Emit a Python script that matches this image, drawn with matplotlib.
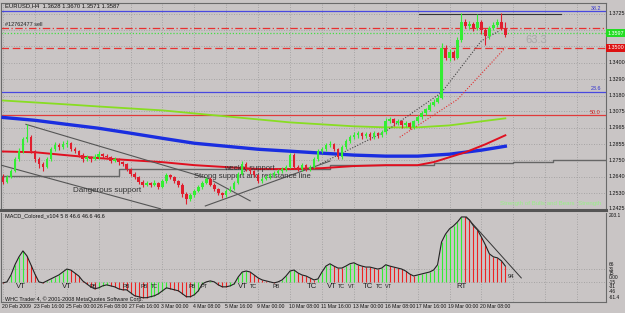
import numpy as np
import matplotlib
matplotlib.use("Agg")
from matplotlib import pyplot as plt

# EURUSD H4 candles, 20 Feb 2009 08:00 .. 20 Mar 2009
closes = [1.2605, 1.2638, 1.2678, 1.2757, 1.2810, 1.2890, 1.2903, 1.2810, 1.2757, 1.2724,
          1.2704, 1.2757, 1.2823, 1.2850, 1.2837, 1.2856, 1.2863, 1.2823, 1.2810, 1.2784,
          1.2757, 1.2770, 1.2757, 1.2770, 1.2790, 1.2777, 1.2770, 1.2744, 1.2757, 1.2737,
          1.2724, 1.2691, 1.2658, 1.2638, 1.2605, 1.2585, 1.2598, 1.2585, 1.2598, 1.2571,
          1.2611, 1.2651, 1.2638, 1.2611, 1.2585, 1.2525, 1.2492, 1.2518, 1.2545, 1.2571,
          1.2598, 1.2624, 1.2585, 1.2558, 1.2532, 1.2518, 1.2545, 1.2558, 1.2598, 1.2658,
          1.2724, 1.2691, 1.2678, 1.2651, 1.2611, 1.2624, 1.2638, 1.2651, 1.2664, 1.2678,
          1.2691, 1.2704, 1.2784, 1.2704, 1.2691, 1.2717, 1.2691, 1.2704, 1.2757, 1.2810,
          1.2823, 1.2850, 1.2856, 1.2823, 1.2770, 1.2837, 1.2876, 1.2903, 1.2916, 1.2929,
          1.2909, 1.2923, 1.2903, 1.2929, 1.2916, 1.2936, 1.3009, 1.3022, 1.2996, 1.3009,
          1.2982, 1.2996, 1.2969, 1.3009, 1.3035, 1.3062, 1.3088, 1.3121, 1.3141, 1.3168,
          1.3500, 1.3433, 1.3473, 1.3433, 1.3553, 1.3672, 1.3645, 1.3659, 1.3632, 1.3672,
          1.3619, 1.3579, 1.3632, 1.3652, 1.3672, 1.3628, 1.3587]
highs = [1.2660, 1.2650, 1.2690, 1.2770, 1.2830, 1.2905, 1.2989, 1.2915, 1.2820, 1.2770,
         1.2740, 1.2770, 1.2840, 1.2870, 1.2865, 1.2880, 1.2885, 1.2870, 1.2835, 1.2820,
         1.2795, 1.2785, 1.2780, 1.2790, 1.2810, 1.2800, 1.2790, 1.2780, 1.2770, 1.2765,
         1.2745, 1.2730, 1.2700, 1.2670, 1.2645, 1.2615, 1.2610, 1.2605, 1.2615, 1.2605,
         1.2625, 1.2665, 1.2660, 1.2645, 1.2620, 1.2595, 1.2535, 1.2530, 1.2555, 1.2585,
         1.2610, 1.2640, 1.2635, 1.2595, 1.2565, 1.2540, 1.2555, 1.2575, 1.2610, 1.2670,
         1.2745, 1.2735, 1.2700, 1.2685, 1.2660, 1.2640, 1.2650, 1.2665, 1.2680, 1.2690,
         1.2705, 1.2720, 1.2800, 1.2800, 1.2715, 1.2730, 1.2725, 1.2720, 1.2770, 1.2825,
         1.2840, 1.2865, 1.2875, 1.2865, 1.2830, 1.2850, 1.2890, 1.2920, 1.2935, 1.2945,
         1.2940, 1.2940, 1.2935, 1.2945, 1.2940, 1.2950, 1.3030, 1.3040, 1.3030, 1.3025,
         1.3020, 1.3010, 1.3005, 1.3020, 1.3050, 1.3075, 1.3100, 1.3135, 1.3160, 1.3185,
         1.3530, 1.3515, 1.3490, 1.3485, 1.3570, 1.3732, 1.3690, 1.3680, 1.3670, 1.3725,
         1.3685, 1.3630, 1.3645, 1.3670, 1.3690, 1.3732, 1.3670]
lows = [1.2590, 1.2595, 1.2630, 1.2670, 1.2745, 1.2800, 1.2870, 1.2800, 1.2740, 1.2700,
        1.2680, 1.2695, 1.2745, 1.2810, 1.2820, 1.2825, 1.2840, 1.2810, 1.2795, 1.2770,
        1.2740, 1.2745, 1.2740, 1.2750, 1.2760, 1.2765, 1.2755, 1.2730, 1.2735, 1.2720,
        1.2710, 1.2675, 1.2645, 1.2625, 1.2590, 1.2570, 1.2575, 1.2570, 1.2575, 1.2555,
        1.2565, 1.2600, 1.2625, 1.2600, 1.2570, 1.2505, 1.2459, 1.2475, 1.2505, 1.2535,
        1.2560, 1.2590, 1.2575, 1.2545, 1.2515, 1.2495, 1.2505, 1.2535, 1.2550, 1.2590,
        1.2650, 1.2680, 1.2660, 1.2640, 1.2600, 1.2600, 1.2615, 1.2625, 1.2640, 1.2655,
        1.2665, 1.2680, 1.2695, 1.2690, 1.2675, 1.2680, 1.2675, 1.2680, 1.2695, 1.2745,
        1.2800, 1.2810, 1.2835, 1.2810, 1.2755, 1.2760, 1.2825, 1.2865, 1.2890, 1.2900,
        1.2890, 1.2895, 1.2885, 1.2890, 1.2900, 1.2905, 1.2925, 1.2995, 1.2980, 1.2985,
        1.2965, 1.2970, 1.2955, 1.2960, 1.3000, 1.3025, 1.3050, 1.3075, 1.3110, 1.3130,
        1.3155, 1.3420, 1.3410, 1.3420, 1.3425, 1.3540, 1.3630, 1.3625, 1.3610, 1.3620,
        1.3590, 1.3520, 1.3560, 1.3620, 1.3640, 1.3615, 1.3571]
first_open = 1.2640

# moving averages, sampled every 8 bars (+ last bar)
ma_bars = [0, 8, 16, 24, 32, 40, 48, 56, 64, 72, 80, 88, 96, 104, 112, 120, 126]
ma_blue = [1.3035, 1.3016, 1.2989, 1.2963, 1.2930, 1.2896, 1.2863, 1.2843, 1.2823, 1.2810,
           1.2797, 1.2784, 1.2777, 1.2777, 1.2790, 1.2817, 1.2843]
ma_green = [1.3148, 1.3135, 1.3122, 1.3108, 1.3095, 1.3082, 1.3062, 1.3042, 1.3022, 1.3002,
            1.2989, 1.2976, 1.2969, 1.2969, 1.2982, 1.3009, 1.3029]
ma_red_bars = [0, 8, 16, 24, 32, 40, 48, 56, 64, 72, 80, 88, 96, 104, 108, 116, 121, 126]
ma_red = [1.2808, 1.2803, 1.2783, 1.2764, 1.2750, 1.2737, 1.2717, 1.2704, 1.2691, 1.2691,
          1.2697, 1.2711, 1.2717, 1.2717, 1.2737, 1.2803, 1.2856, 1.2916]
dot_black_bars = [79.5, 96, 110, 120, 124.5]
dot_black = [1.2724, 1.2943, 1.3201, 1.3546, 1.3612]
dot_red_bars = [99.5, 114, 126]
dot_red = [1.2903, 1.3155, 1.3500]

# support step line (bar ranges and level)
step_bars = [-1, 29, 29, 82, 82, 108, 108, 128, 128, 138, 138, 152]
step_lvls = [1.2644, 1.2644, 1.2691, 1.2691, 1.2717, 1.2717, 1.2730, 1.2730,
             1.2737, 1.2737, 1.2750, 1.2750]

# hand drawn trend lines: (bar0, price0, bar1, price1)
trend_lines = [(5.75, 1.2989, 52.0, 1.2624),
               (52.75, 1.2611, 62.0, 1.2479),
               (-0.5, 1.2717, 39.5, 1.2426),
               (50.75, 1.2445, 82.0, 1.2744)]

# MACD colored histogram values
macd = [-3, 0, 21, 52, 76, 94, 79, 52, 24, 0, -3, 3, 9, 15, 21, 30, 39, 36, 27, 18,
        3, -6, -15, -21, -18, -12, -9, -12, -15, -21, -24, -24, -33, -42, -45, -48, -48, -45, -42, -36,
        -27, -18, -21, -24, -27, -36, -45, -45, -39, -27, -6, 0, 3, 0, -9, -15, -15, -12, -6, 15,
        30, 33, 30, 21, 12, 6, 3, 0, -3, 0, 6, 18, 33, 36, 27, 21, 18, 12, 6, 9,
        30, 48, 55, 48, 42, 42, 48, 55, 58, 52, 48, 45, 45, 42, 39, 42, 52, 48, 45, 42,
        39, 33, 24, 18, 21, 24, 27, 30, 36, 52, 121, 145, 161, 170, 182, 197, 197, 188, 170, 158,
        136, 112, 85, 76, 73, 64, 48]
macd_marks = [(4.5, 'VT', 1), (16, 'VT', 1), (22.5, 'PB', 0), (31, 'PB', 0), (35.5, 'PB', 0),
              (38, 'TC', 0), (47.5, 'PB', 0), (50.3, 'PT', 0), (60.3, 'VT', 1), (62.8, 'TC', 0),
              (68.5, 'PB', 0), (77.5, 'TC', 1), (82.5, 'VT', 1), (84.9, 'TC', 0), (87.5, 'VT', 0),
              (91.5, 'TC', 1), (94.5, 'TC', 0), (96.6, 'VT', 0), (115, 'RT', 1)]

price_ticks = [1.2425, 1.2530, 1.2640, 1.2750, 1.2855, 1.2965, 1.3075, 1.3180, 1.3290,
               1.3400, 1.3510, 1.3615, 1.3725]
date_labels = ["20 Feb 2009", "23 Feb 16:00", "25 Feb 00:00", "26 Feb 08:00", "27 Feb 16:00",
               "3 Mar 00:00", "4 Mar 08:00", "5 Mar 16:00", "9 Mar 00:00", "10 Mar 08:00",
               "11 Mar 16:00", "13 Mar 00:00", "16 Mar 08:00", "17 Mar 16:00", "19 Mar 00:00",
               "20 Mar 08:00"]

BG = '#c9c5c5'
GRID = '#9a9a9a'
BULL = '#33ee33'
BEAR = '#e01e2e'
plt.rcParams['font.family'] = ['Liberation Sans', 'DejaVu Sans']

W, H = 625, 313
fig = plt.figure(figsize=(W / 100, H / 100), dpi=100, facecolor=BG)


def px_axes(x0, y0, x1, y1):
    return fig.add_axes([x0 / W, 1 - y1 / H, (x1 - x0) / W, (y1 - y0) / H])


XL = (-0.5, 151.25)
ax = px_axes(1, 3, 606, 210)
mx = px_axes(1, 213, 606, 302)
for a in (ax, mx):
    a.set_facecolor(BG)
    a.set_xlim(*XL)
    a.set_xticks(range(0, 152, 8))
    a.tick_params(length=0, labelbottom=False, labelleft=False)
    a.grid(True, color=GRID, linestyle=(0, (1, 2)), linewidth=0.6)
    a.set_axisbelow(True)
    for s in a.spines.values():
        s.set_color('#6a6a6a')
        s.set_linewidth(0.8)
ax.spines['bottom'].set_linewidth(2.2)
ax.spines['bottom'].set_color('#555555')
mx.spines['top'].set_visible(False)

# ---- price panel
ax.set_ylim(1.2418, 1.3798)
ax.set_yticks(price_ticks)

n = len(closes)
xb = np.arange(n)
opens = np.array([first_open] + closes[:-1])
cl = np.array(closes)
up = cl >= opens
cols = np.where(up, BULL, BEAR)
ax.vlines(xb, lows, highs, colors=cols, linewidth=0.8, zorder=4)
ax.bar(xb, np.maximum(np.abs(cl - opens), 0.0004), bottom=np.minimum(cl, opens),
       width=0.62, color=cols, linewidth=0, zorder=5)

ax.plot(ma_bars, ma_green, color='#88dd22', linewidth=1.3, zorder=3)
ax.plot(ma_bars, ma_blue, color='#1a2ee0', linewidth=2.4, zorder=3)
ax.plot(ma_red_bars, ma_red, color='#e01020', linewidth=1.4, zorder=3)
ax.plot(step_bars, step_lvls, color='#666666', linewidth=1.0, zorder=2)
ax.plot(dot_black_bars, dot_black, color='#444444', linestyle=(0, (1, 1.5)), linewidth=0.8, zorder=3)
ax.plot(dot_red_bars, dot_red, color='#e03030', linestyle=(0, (1, 1.5)), linewidth=0.8, zorder=3)
for b0, p0, b1, p1 in trend_lines:
    ax.plot([b0, b1], [p0, p1], color='#555555', linewidth=0.8, zorder=3)

# horizontal levels
ax.axhline(1.3745, color='#4848e0', linewidth=0.9)
ax.axhline(1.3208, color='#4848e0', linewidth=0.9)
ax.axhline(1.3049, color='#e03a3a', linewidth=0.9)
ax.axhline(1.3630, color='#e83030', linewidth=0.9, linestyle=(0, (6, 2, 1, 2)))
ax.axhline(1.3597, color='#44dd44', linewidth=0.9, linestyle=(0, (1, 1.5)))
ax.axhline(1.3500, color='#e83030', linewidth=0.9, linestyle=(0, (6, 3)))
ax.plot([104.25, 140], [1.3725, 1.3725], color='#333333', linewidth=0.8)

small = dict(fontsize=3.9, color='#111111')
for t in price_ticks:
    if t in (1.3510, 1.3615):
        continue
    ax.text(1.004, t, f"{t:.4f}", transform=ax.get_yaxis_transform(), va='center',
            ha='left', clip_on=False, **small)
ax.text(1.003, 1.3597, "1.3597", transform=ax.get_yaxis_transform(), va='center', ha='left',
        fontsize=3.9, color='white', clip_on=False,
        bbox=dict(boxstyle='square,pad=0.3', fc='#22dd22', ec='none'))
ax.text(1.003, 1.3500, "1.3500", transform=ax.get_yaxis_transform(), va='center', ha='left',
        fontsize=3.9, color='white', clip_on=False,
        bbox=dict(boxstyle='square,pad=0.3', fc='#dd1111', ec='none'))
ax.text(150, 1.3745, "38.2", color='#3030d0', fontsize=3.9, ha='right', va='bottom')
ax.text(150, 1.3208, "23.6", color='#3030d0', fontsize=3.9, ha='right', va='bottom')
ax.text(150, 1.3049, "50.0", color='#d02020', fontsize=3.9, ha='right', va='bottom')

ax.text(0.5, 1.3781, "EURUSD,H4  1.3628 1.3670 1.3571 1.3587", fontsize=4.2, color='#111111',
        va='center')
ax.text(0.5, 1.3652, "#12762477 sell", fontsize=4.0, color='#222222', va='center')
ax.text(131, 1.3553, "63.3", fontsize=8, color='#a8a8a8', va='center')
ax.text(17.5, 1.2550, "Dangerous support", fontsize=5.8, color='#333333', va='center')
ax.text(55.5, 1.2695, "weekly support", fontsize=5.4, color='#333333', va='center')
ax.text(48, 1.2640, "Strong support and resistance line", fontsize=5.5, color='#333333', va='center')
ax.text(150, 1.2463, "Strength of Bulls and Bears  Strength", fontsize=4.4, color='#99ee88',
        ha='right', va='center')

# ---- MACD panel
mx.set_ylim(-61, 209)
mx.set_yticks([0, 39])
mv = np.array(macd)
xm = np.arange(len(mv))
prev = np.concatenate([[mv[0]], mv[:-1]])
mcols = np.where(mv > prev, '#33ee33', '#ee2222')
mx.vlines(xm, 0, mv, colors=mcols, linewidth=0.8, zorder=3)
mx.plot(xm, mv, color='#222222', linewidth=0.8, zorder=4)
mx.plot([116.25, 130], [197, 12], color='#333333', linewidth=0.7, zorder=4)
for b, lab, big in macd_marks:
    mx.text(b, -13, lab, ha='center', va='center', fontsize=5.6 if big else 4.0,
            color='#222222', zorder=5)
mx.text(126.5, 15, "94", fontsize=4.2, color='#222222', va='center')
mx.text(0.5, 200, "MACD_Colored_v104 5 8 46.6 46.6 46.6", fontsize=4.0, color='#111111', va='center')
mx.text(0.5, -51, "WHC Trader 4, \u00a9 2001-2008 MetaQuotes Software Corp.", fontsize=3.9,
        color='#111111', va='center')
macd_labels = [("203.1", 201), ("66", 52), ("31", 39), ("15", 26), ("0.00", 13),
               ("-15", -1), ("-31", -15), ("-46", -30), ("-61.4", -46)]
for lab, v in macd_labels:
    mx.text(1.004, v, lab, transform=mx.get_yaxis_transform(), va='center', ha='left',
            clip_on=False, fontsize=3.5, color='#111111')

# x axis date labels
for i, lab in enumerate(date_labels):
    mx.text(i * 8 - 0.3, -68, lab, ha='left', va='top', clip_on=False, fontsize=3.7, color='#111111')

fig.savefig("out.png", dpi=100, facecolor=BG)
